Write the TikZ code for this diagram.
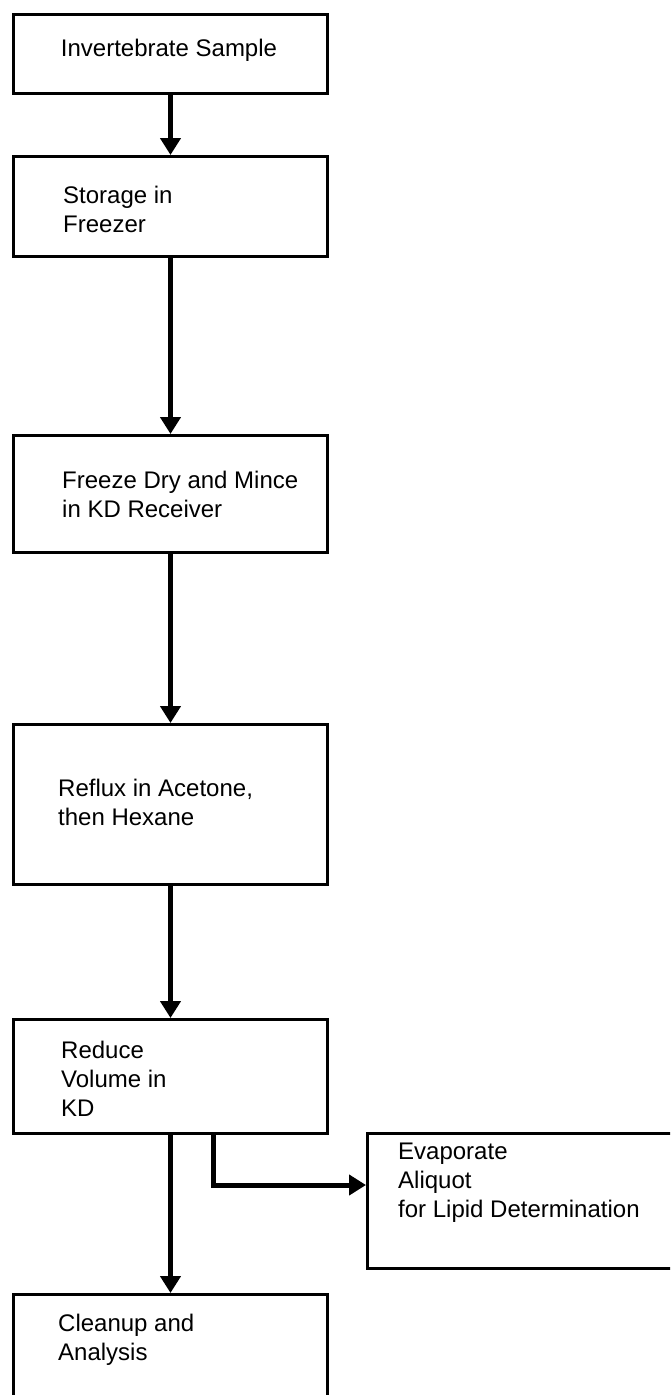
\documentclass[tikz,border=0pt]{standalone}
\usepackage{fontspec}
\setmainfont{Liberation Sans}
\usetikzlibrary{arrows.meta}

\tikzset{
  stagebox/.style={draw, line width=3, rectangle, anchor=north west, minimum width=314, inner sep=0},
  stagetext/.style={anchor=north west, align=left, inner sep=0, font=\fontsize{24pt}{29pt}\selectfont},
  flow/.style={line width=5, -{Triangle[width=20pt,length=17pt]}}
}

\begin{document}
\begin{tikzpicture}[x=1pt,y=-1pt]
  \clip (0,0) rectangle (670,1395);
  % sample box
  \node [stagebox, minimum height=79] (sample) at (12,13) {};
  \node [stagetext, anchor=base] (sampletxt) at (169,56) {Invertebrate Sample};
  % storage box
  \node [stagebox, minimum height=100] (storage) at (12,155) {};
  \node [stagetext] (storagetxt) at (63,186) {Storage in\\Freezer};
  % freeze dry box
  \node [stagebox, minimum height=117] (freeze) at (12,434) {};
  \node [stagetext] (freezetxt) at (62,471) {Freeze Dry and Mince\\in KD Receiver};
  % reflux box
  \node [stagebox, minimum height=160] (reflux) at (12,723) {};
  \node [stagetext] (refluxtxt) at (58,779) {Reflux in Acetone,\\then Hexane};
  % reduce box
  \node [stagebox, minimum height=114] (reduce) at (12,1018) {};
  \node [stagetext] (reducetxt) at (61,1041) {Reduce\\Volume in\\KD};
  % evaporate box (runs off the right edge)
  \node [stagebox, minimum width=340, minimum height=135] (evap) at (366,1132) {};
  \node [stagetext] (evaptxt) at (398,1143) {Evaporate\\Aliquot\\for Lipid Determination};
  % cleanup box (runs off the bottom edge)
  \node [stagebox, minimum height=140] (cleanup) at (12,1293) {};
  \node [stagetext] (cleanuptxt) at (58,1314) {Cleanup and\\Analysis};
  % arrows down
  \draw [flow] (sample) -- (storage);
  \draw [flow] (storage) -- (freeze);
  \draw [flow] (freeze) -- (reflux);
  \draw [flow] (reflux) -- (reduce);
  \draw [flow] (reduce) -- (cleanup);
  % branch to the right
  \coordinate (split) at (213,1185);
  \draw [flow] (reduce.south -| split) |- (evap.west |- split);
\end{tikzpicture}
\end{document}
